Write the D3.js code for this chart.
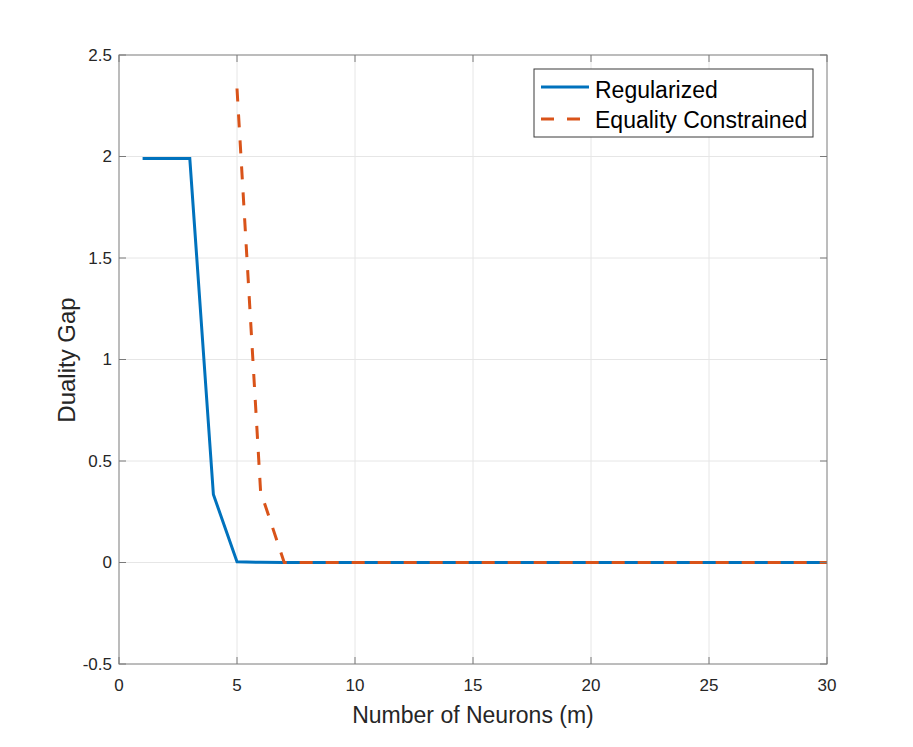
<!DOCTYPE html>
<html>
<head>
<meta charset="utf-8">
<script src="https://cdn.jsdelivr.net/npm/d3@7"></script>
<style>
  body { margin: 0; background: #fff; }
  svg { font-family: "Liberation Sans", Arial, sans-serif; }
</style>
</head>
<body>
<svg id="chart" width="913" height="747"></svg>
<script>
// neurons m = 1..30
const neurons = d3.range(1, 31);
const regularized = [1.99, 1.99, 1.99, 0.335, 0.004, 0.001, 0, 0, 0, 0,
                     0, 0, 0, 0, 0, 0, 0, 0, 0, 0,
                     0, 0, 0, 0, 0, 0, 0, 0, 0, 0];
// equality constrained is infeasible below m = 5
const eqNeurons = d3.range(5, 31);
const equality = [2.335, 0.35, 0, 0, 0, 0, 0, 0, 0, 0,
                  0, 0, 0, 0, 0, 0, 0, 0, 0, 0,
                  0, 0, 0, 0, 0, 0];
const xTicks = [0, 5, 10, 15, 20, 25, 30];
const yTicks = [-0.5, 0, 0.5, 1, 1.5, 2, 2.5];
const seriesNames = ["Regularized", "Equality Constrained"];

const blue = "#0072bd", orange = "#d95319";
const axisColor = "#7a7a7a", textColor = "#262626", gridColor = "#e6e6e6";
const dash = "13,13";

const svg = d3.select("#chart");
const mLeft = 119, mRight = 827, mTop = 55, mBottom = 664;

const x = d3.scaleLinear().domain([0, 30]).range([mLeft, mRight]);
const y = d3.scaleLinear().domain([-0.5, 2.5]).range([mBottom, mTop]);

// grid
const grid = svg.append("g").attr("stroke", gridColor).attr("stroke-width", 1);
grid.selectAll(".gx").data(xTicks.slice(1, -1)).join("line")
    .attr("x1", d => x(d)).attr("x2", d => x(d))
    .attr("y1", mTop).attr("y2", mBottom);
grid.selectAll(".gy").data(yTicks.slice(1, -1)).join("line")
    .attr("x1", mLeft).attr("x2", mRight)
    .attr("y1", d => y(d)).attr("y2", d => y(d));

// lines
const lineReg = d3.line().x((d, i) => x(neurons[i])).y(d => y(d));
const lineEq = d3.line().x((d, i) => x(eqNeurons[i])).y(d => y(d));

svg.append("path")
    .datum(regularized)
    .attr("d", lineReg)
    .attr("fill", "none")
    .attr("stroke", blue)
    .attr("stroke-width", 3);

svg.append("path")
    .datum(equality)
    .attr("d", lineEq)
    .attr("fill", "none")
    .attr("stroke", orange)
    .attr("stroke-width", 3)
    .attr("stroke-dasharray", dash);

// box + ticks
const ax = svg.append("g").attr("stroke", axisColor).attr("stroke-width", 1).attr("fill", "none");
ax.append("rect")
    .attr("x", mLeft).attr("y", mTop)
    .attr("width", mRight - mLeft).attr("height", mBottom - mTop);
const tk = 7;
xTicks.forEach(t => {
    ax.append("line").attr("x1", x(t)).attr("x2", x(t)).attr("y1", mBottom).attr("y2", mBottom - tk);
    ax.append("line").attr("x1", x(t)).attr("x2", x(t)).attr("y1", mTop).attr("y2", mTop + tk);
});
yTicks.forEach(t => {
    ax.append("line").attr("x1", mLeft).attr("x2", mLeft + tk).attr("y1", y(t)).attr("y2", y(t));
    ax.append("line").attr("x1", mRight).attr("x2", mRight - tk).attr("y1", y(t)).attr("y2", y(t));
});

// tick labels
svg.append("g").selectAll("text").data(xTicks).join("text")
    .attr("x", d => x(d)).attr("y", 690.5)
    .attr("text-anchor", "middle")
    .attr("font-size", 17).attr("fill", textColor)
    .text(d => d);
svg.append("g").selectAll("text").data(yTicks).join("text")
    .attr("x", 112).attr("y", d => y(d)).attr("dy", "0.35em")
    .attr("text-anchor", "end")
    .attr("font-size", 17).attr("fill", textColor)
    .text(d => d);

// axis labels
svg.append("text")
    .attr("x", (mLeft + mRight) / 2).attr("y", 723)
    .attr("text-anchor", "middle")
    .attr("font-size", 23).attr("fill", textColor)
    .text("Number of Neurons (m)");
svg.append("text")
    .attr("transform", "translate(75,360) rotate(-90)")
    .attr("text-anchor", "middle")
    .attr("font-size", 24).attr("fill", textColor)
    .text("Duality Gap");

// legend
const lg = svg.append("g").attr("transform", "translate(534,69)");
lg.append("rect").attr("width", 279).attr("height", 68)
    .attr("fill", "#fff").attr("stroke", "#3a3a3a").attr("stroke-width", 1);
const styles = [{c: blue, dash: null}, {c: orange, dash: dash}];
seriesNames.forEach((name, i) => {
    const cy = 18 + i * 32;
    lg.append("line").attr("x1", 7).attr("x2", 55).attr("y1", cy).attr("y2", cy)
        .attr("stroke", styles[i].c).attr("stroke-width", 3)
        .attr("stroke-dasharray", styles[i].dash);
    lg.append("text").attr("x", 61).attr("y", 28.5 + i * 30.5)
        .attr("font-size", 23).attr("fill", "#000").text(name);
});
</script>
</body>
</html>
